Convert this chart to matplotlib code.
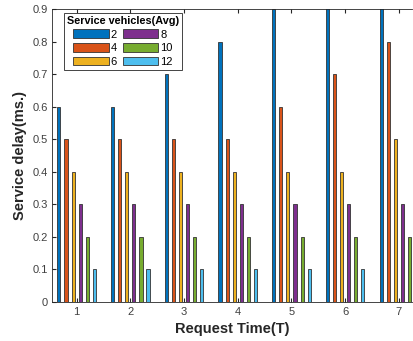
import numpy as np
import matplotlib
matplotlib.use('Agg')
from matplotlib import pyplot as plt

plt.rcParams['font.family'] = ['Liberation Sans', 'DejaVu Sans']

times = [1, 2, 3, 4, 5, 6, 7]
labels = ['2', '4', '6', '8', '10', '12']
v2 = [0.6, 0.6, 0.7, 0.8, 0.9, 1.0, 1.1]
v4 = [0.5, 0.5, 0.5, 0.5, 0.6, 0.7, 0.8]
v6 = [0.4, 0.4, 0.4, 0.4, 0.4, 0.4, 0.5]
v8 = [0.3, 0.3, 0.3, 0.3, 0.3, 0.3, 0.3]
v10 = [0.2, 0.2, 0.2, 0.2, 0.2, 0.2, 0.2]
v12 = [0.1, 0.1, 0.1, 0.1, 0.1, 0.1, 0.1]
series = [v2, v4, v6, v8, v10, v12]
colors = ['#0072BD', '#D95319', '#EDB120', '#7E2F8E', '#77AC30', '#4DBEEE']

fig = plt.figure(figsize=(4.13, 3.41), dpi=100)
ax = fig.add_axes([0.127, 0.115, 0.87, 0.858])

x = np.array(times)
step = 0.132
for i, vals in enumerate(series):
    ax.bar(x + (i - 2.5) * step, vals, width=0.058, color=colors[i],
           edgecolor='#333333', linewidth=0.6, label=labels[i])

ax.set_xlim(0.55, 7.24)
ax.set_ylim(0, 0.9)
ax.set_xticks(times)
ax.set_yticks(np.arange(0, 0.91, 0.1))
ax.set_yticklabels(['0'] + ['%.1f' % v for v in np.arange(0.1, 0.91, 0.1)])
ax.tick_params(direction='in', labelsize=8, colors='#262626', labelcolor='#404040',
               top=True, length=3)
for s in ax.spines.values():
    s.set_color('#262626')
    s.set_linewidth(0.6)
ax.spines['right'].set_visible(False)

ax.set_xlabel('Request Time(T)', fontsize=10.5, fontweight='bold', color='#262626')
ax.set_ylabel('Service delay(ms.)', fontsize=10.5, fontweight='bold', color='#262626')

leg = ax.legend(ncol=2, loc='upper left', bbox_to_anchor=(0.031, 0.988),
                borderaxespad=0,
                title='Service vehicles(Avg)', fontsize=8,
                title_fontproperties={'weight': 'bold', 'size': 7.8},
                fancybox=False, edgecolor='#262626', framealpha=1,
                handlelength=3.2, handleheight=0.85, handletextpad=0.2,
                columnspacing=0.5, labelspacing=0.3, borderpad=0.3)
leg.get_frame().set_linewidth(0.6)

plt.savefig('out.png', dpi=100)
